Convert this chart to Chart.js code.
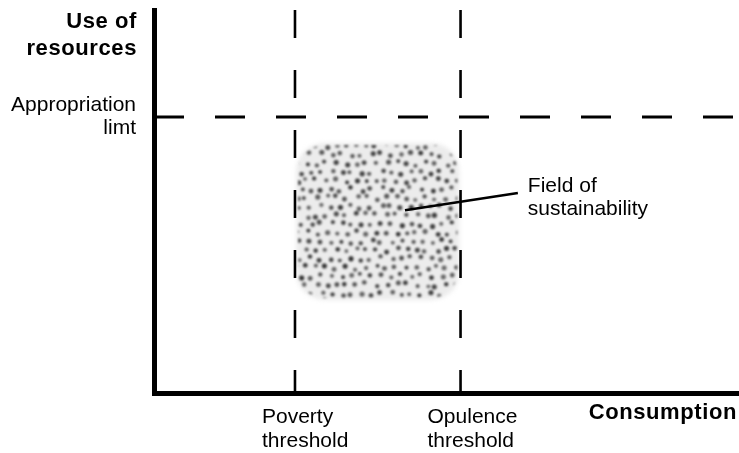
<!DOCTYPE html>
<html>
<head>
<meta charset="utf-8">
<script src="https://cdn.jsdelivr.net/npm/chart.js@4"></script>
<style>
  html, body { margin: 0; padding: 0; background: #fff; }
  #wrap { width: 739px; height: 453px; position: relative; }
</style>
</head>
<body>
<div id="wrap"><canvas id="chart"></canvas></div>
<script>
// concept diagram, both axes run 0..100 (no units)
const POVERTY  = 24.1;
const OPULENCE = 52.4;
const LIMIT    = 72.1;

const thresholdValues = [POVERTY, OPULENCE];
const thresholdLabels = [['Poverty', 'threshold'], ['Opulence', 'threshold']];
const limitLabel      = ['Appropriation', 'limt'];
const yTitle          = ['Use of', 'resources'];
const xTitle          = 'Consumption';

const fieldX     = [24.3, 52.2];
const fieldY     = [24.4, 65.3];
const fieldLabel = ['Field of', 'sustainability'];
const leaderX    = [42.9, 62.2];
const leaderY    = [47.8, 52.3];

const FONT = '"Liberation Sans", Arial, Helvetica, sans-serif';

// deterministic jitter for the stipple texture (not data)
function hash(n) {
  const s = Math.sin(n * 12.9898 + 78.233) * 43758.5453;
  return s - Math.floor(s);
}

function roundRect(ctx, x, y, w, h, r) {
  ctx.beginPath();
  ctx.moveTo(x + r, y);
  ctx.arcTo(x + w, y, x + w, y + h, r);
  ctx.arcTo(x + w, y + h, x, y + h, r);
  ctx.arcTo(x, y + h, x, y, r);
  ctx.arcTo(x, y, x + w, y, r);
  ctx.closePath();
}

const fieldPlugin = {
  id: 'field',
  beforeDatasetsDraw(chart) {
    const { ctx, scales: { x, y } } = chart;
    const x0 = x.getPixelForValue(fieldX[0]), x1 = x.getPixelForValue(fieldX[1]);
    const y0 = y.getPixelForValue(fieldY[1]), y1 = y.getPixelForValue(fieldY[0]);
    const w = x1 - x0, h = y1 - y0;

    // soft grey ground
    ctx.save();
    ctx.filter = 'blur(2px)';
    roundRect(ctx, x0, y0, w, h, 28);
    ctx.fillStyle = '#ececec';
    ctx.fill();
    ctx.restore();

    // dots
    const pad = 10;
    const off = document.createElement('canvas');
    off.width = Math.ceil(w + pad * 2);
    off.height = Math.ceil(h + pad * 2);
    const o = off.getContext('2d');
    roundRect(o, pad + 2, pad + 2, w - 4, h - 4, 26);
    o.clip();
    o.fillStyle = '#333';
    const step = 10;
    let k = 0;
    for (let r = 0; r * step * 0.866 < h + step; r++) {
      for (let c = -1; c * step < w + step; c++) {
        k++;
        const px = pad + c * step + (r % 2 ? step / 2 : 0) + (hash(k) - 0.5) * 5;
        const py = pad + 3 + r * step * 0.866 + (hash(k + 999) - 0.5) * 5;
        const rad = 1.9 + hash(k + 555) * 0.7;
        o.globalAlpha = 0.7 + hash(k + 333) * 0.3;
        o.beginPath();
        o.arc(px, py, rad, 0, Math.PI * 2);
        o.fill();
      }
    }

    ctx.save();
    ctx.filter = 'blur(0.8px)';
    ctx.drawImage(off, x0 - pad, y0 - pad);
    ctx.restore();
  }
};

const textPlugin = {
  id: 'texts',
  afterDraw(chart) {
    const { ctx, scales: { x, y } } = chart;
    ctx.save();
    ctx.fillStyle = '#000';
    ctx.textBaseline = 'alphabetic';

    // axis titles
    ctx.font = 'bold 22px ' + FONT;
    ctx.letterSpacing = '0.6px';
    ctx.textAlign = 'right';
    ctx.fillText(yTitle[0], 137, 28);
    ctx.fillText(yTitle[1], 137, 55);
    ctx.fillText(xTitle, 737, 419);
    ctx.letterSpacing = '0px';

    // limit label
    ctx.font = '21px ' + FONT;
    const ly = y.getPixelForValue(LIMIT);
    ctx.fillText(limitLabel[0], 136, ly - 6);
    ctx.fillText(limitLabel[1], 136, ly + 17);

    // threshold labels
    ctx.textAlign = 'left';
    thresholdValues.forEach((v, i) => {
      const px = x.getPixelForValue(v) - 33;
      ctx.fillText(thresholdLabels[i][0], px, 423);
      ctx.fillText(thresholdLabels[i][1], px, 447);
    });

    // field label
    const fx = x.getPixelForValue(leaderX[1]) + 10;
    const fy = y.getPixelForValue(leaderY[1]);
    ctx.fillText(fieldLabel[0], fx, fy - 1);
    ctx.fillText(fieldLabel[1], fx, fy + 22);
    ctx.restore();
  }
};

const vLine = v => ({
  data: [{ x: v, y: 100 }, { x: v, y: 0 }],
  borderColor: '#000', borderWidth: 2.6, borderDash: [28, 32],
  showLine: true, pointRadius: 0
});

new Chart(document.getElementById('chart'), {
  type: 'scatter',
  data: {
    datasets: [
      ...thresholdValues.map(vLine),
      {
        data: [{ x: 0, y: LIMIT }, { x: 100, y: LIMIT }],
        borderColor: '#000', borderWidth: 3, borderDash: [30, 31],
        showLine: true, pointRadius: 0
      },
      {
        data: leaderX.map((v, i) => ({ x: v, y: leaderY[i] })),
        borderColor: '#000', borderWidth: 2.6,
        showLine: true, pointRadius: 0
      }
    ]
  },
  options: {
    responsive: true,
    maintainAspectRatio: false,
    animation: false,
    events: [],
    layout: { padding: { left: 154, top: 10, right: 0, bottom: 59.5 } },
    plugins: { legend: { display: false }, tooltip: { enabled: false } },
    scales: {
      x: {
        type: 'linear', min: 0, max: 100,
        ticks: { display: false },
        grid: { display: false, drawTicks: false },
        border: { display: true, color: '#000', width: 5 }
      },
      y: {
        type: 'linear', min: 0, max: 100,
        ticks: { display: false },
        grid: { display: false, drawTicks: false },
        border: { display: true, color: '#000', width: 5 }
      }
    }
  },
  plugins: [fieldPlugin, textPlugin]
});
</script>
</body>
</html>
